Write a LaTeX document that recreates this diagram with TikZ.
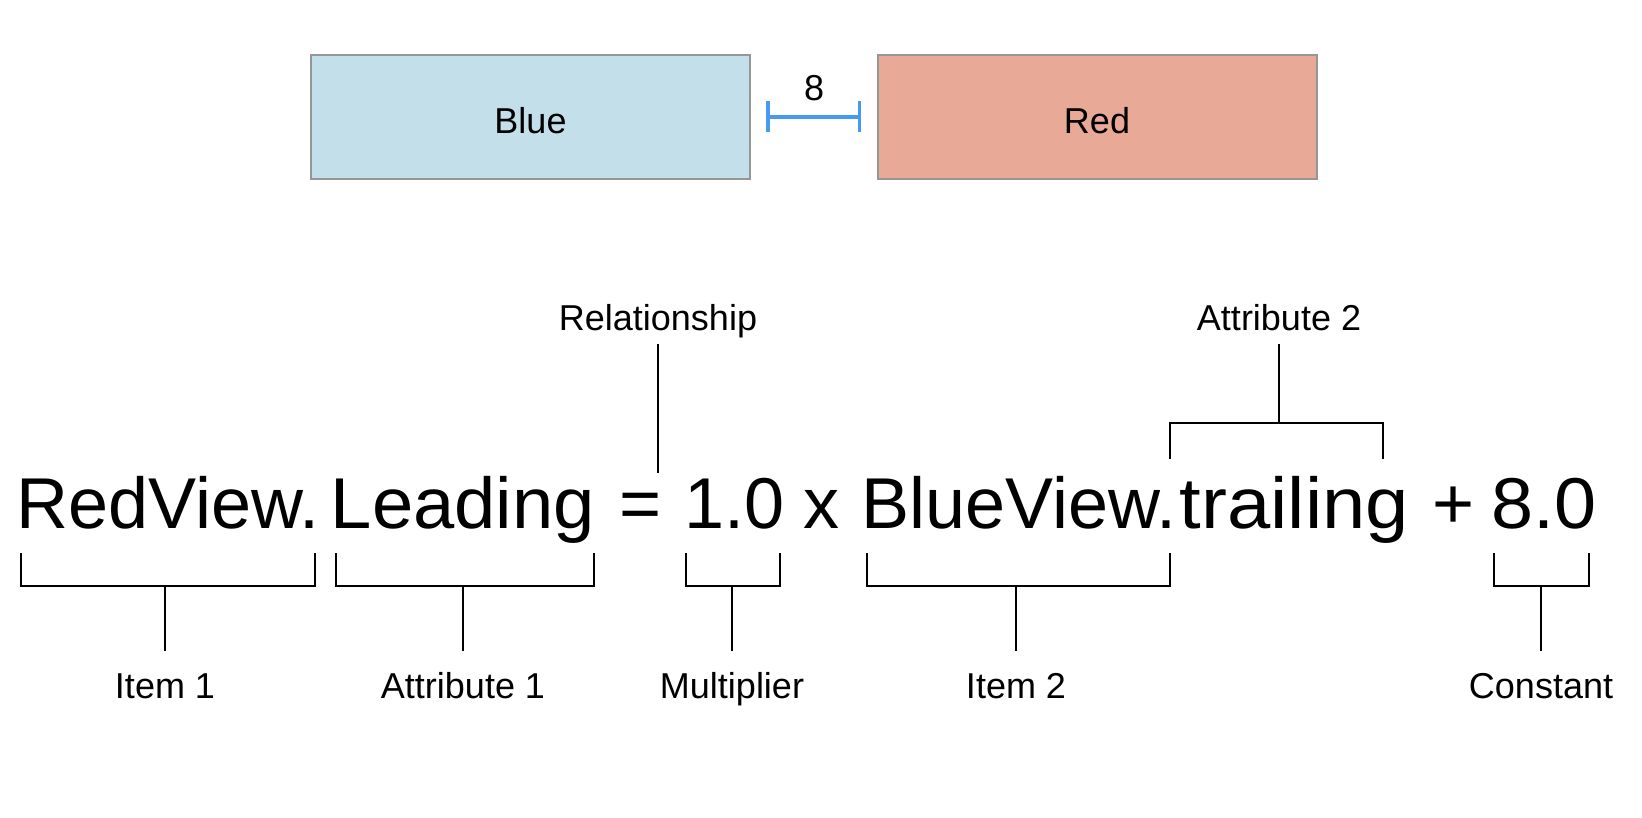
\documentclass[tikz,border=0pt]{standalone}
\usepackage{fontspec}
\setmainfont{Liberation Sans}
\definecolor{boxblue}{RGB}{194,223,234}
\definecolor{boxred}{RGB}{232,169,150}
\definecolor{boxgray}{RGB}{150,150,150}
\definecolor{spcblue}{RGB}{71,154,242}
\begin{document}
\begin{tikzpicture}[x=0.5pt,y=-0.5pt,
  lbl/.style={font=\fontsize{18}{21}\selectfont, inner sep=0pt, anchor=base},
  eq/.style={font=\fontsize{36}{43}\selectfont, inner sep=0pt},
  brk/.style={line width=1.1pt, black},
  vbox/.style={draw=boxgray, line width=1pt, minimum width=219.5pt, minimum height=62pt, inner sep=0pt, text height=17pt, text depth=0pt, font=\fontsize{18}{21}\selectfont},
  spc/.style={draw=spcblue, line width=1.6pt}]
\useasboundingbox (0,0) rectangle (1642,818);
% top views
\node[vbox, fill=boxblue] (blue) at (530.5,117) {Blue};
\node[vbox, fill=boxred] (red) at (1097,117) {Red};
\coordinate (sl) at ([xshift=8.5pt]blue.east);
\coordinate (sr) at ([xshift=-8.5pt]red.west);
\draw[spc] (sl) -- (sr);
\draw[spc] ([yshift=7.75pt]sl) -- ([yshift=-7.75pt]sl);
\draw[spc] ([yshift=7.75pt]sr) -- ([yshift=-7.75pt]sr);
\node[lbl] (eight) at (814,101) {8};
% equation
\node[eq, anchor=base west] (t1) at (16.5,528) {RedView.};
\node[eq, anchor=base west] (t2) at (330.5,528) {\scalebox{1.03}[1]{Leading}};
\node[eq, anchor=base] (t3) at (641,528) {=};
\node[eq, anchor=base west] (t4) at (684.5,528) {1.0};
\node[eq, anchor=base] (t5) at (821,528) {x};
\node[eq, anchor=base east] (t6) at (1177,528) {BlueView.};
\node[eq, anchor=base west] (t7) at (1179.5,528) {\scalebox{1.08}[1]{trailing}};
\node[eq, anchor=base] (t8) at (1453,528) {+};
\node[eq, anchor=base west] (t9) at (1491,528) {\scalebox{1.05}[1]{8.0}};
% labels
\node[lbl] (lrel) at (658,330) {Relationship};
\node[lbl] (latt2) at (1279,330) {Attribute 2};
\node[lbl] (litem1) at (165,698) {Item 1};
\node[lbl] (latt1) at (463,698) {Attribute 1};
\node[lbl] (lmult) at (732,698) {Multiplier};
\node[lbl] (litem2) at (1016,698) {Item 2};
\node[lbl] (lconst) at (1541,698) {Constant};
% upper annotations
\draw[brk] (658,344) -- (658,473);
\draw[brk] (1170,459) |- (1383,423) -- (1383,459);
\draw[brk] (1279,423) -- (1279,344);
% lower brackets
\draw[brk] (21,553) |- (315,586) -- (315,553);
\draw[brk] (165,586) -- (165,651);
\draw[brk] (336,553) |- (594,586) -- (594,553);
\draw[brk] (463,586) -- (463,651);
\draw[brk] (686,553) |- (780,586) -- (780,553);
\draw[brk] (732,586) -- (732,651);
\draw[brk] (867,553) |- (1170,586) -- (1170,553);
\draw[brk] (1016,586) -- (1016,651);
\draw[brk] (1494,553) |- (1589,586) -- (1589,553);
\draw[brk] (1541,586) -- (1541,651);
\end{tikzpicture}
\end{document}
